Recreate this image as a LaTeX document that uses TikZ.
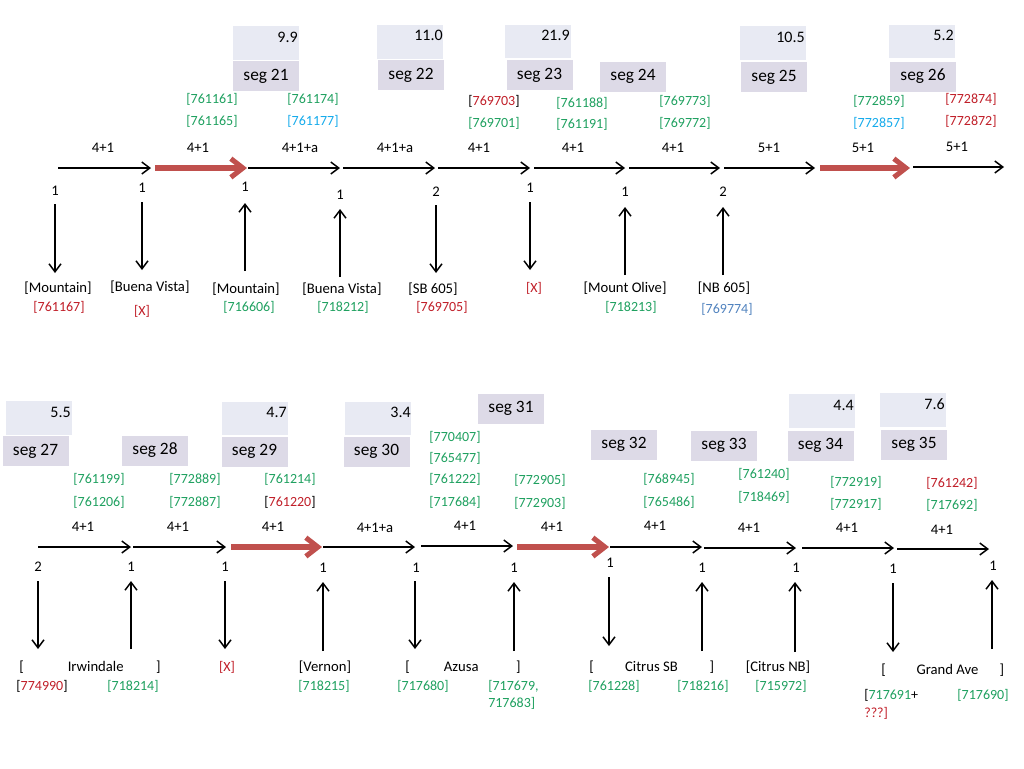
\documentclass[tikz,border=0pt]{standalone}
\usepackage{fontspec}
\setmainfont{Carlito}
\usetikzlibrary{arrows.meta}
\definecolor{cgreen}{RGB}{30,160,95}
\definecolor{cred}{RGB}{192,30,40}
\definecolor{cblue}{RGB}{20,170,235}
\definecolor{cbluetwo}{RGB}{80,130,190}
\definecolor{valfill}{RGB}{232,234,243}
\definecolor{segfill}{RGB}{221,218,231}
\definecolor{redarrow}{RGB}{192,80,77}
\begin{document}
\begin{tikzpicture}[x=0.75pt,y=-0.75pt,
  lbl/.style={font=\fontsize{10.5}{12}\selectfont, inner sep=0pt},
  idg/.style={lbl, text=cgreen},
  idr/.style={lbl, text=cred},
  idb/.style={lbl, text=cblue},
  num/.style={font=\fontsize{11}{13}\selectfont, inner sep=0pt},
  valtxt/.style={font=\fontsize{12}{14}\selectfont, inner sep=0pt, anchor=east},
  stn/.style={font=\fontsize{11}{13}\selectfont, inner sep=0pt},
  valbox/.style={fill=valfill, minimum width=49.5pt, minimum height=25pt, inner sep=0pt},
  segbox/.style={fill=segfill, minimum width=49.5pt, minimum height=22.5pt, inner sep=0pt, font=\fontsize{13}{15}\selectfont},
  flow/.style={line width=1.1pt, -{Straight Barb[length=6pt,width=9pt]}},
  hot/.style={draw=redarrow, line width=3.8pt, -{Straight Barb[length=9pt,width=14pt]}},
]
\useasboundingbox (0,0) rectangle (1024,768);

% ---------------- top row boxes ----------------
\node[valbox] (v21) at (266,43) {};
\node[segbox] (s21) at (266,76) {seg 21};
\node[valbox] (v22) at (409.5,42) {};
\node[segbox] (s22) at (411,75) {seg 22};
\node[valbox] (v23) at (538,41.5) {};
\node[segbox] (s23) at (539.5,75) {seg 23};
\node[segbox] (s24) at (633,76.5) {seg 24};
\node[valbox] (v25) at (772.5,43) {};
\node[segbox] (s25) at (774,77) {seg 25};
\node[valbox] (v26) at (921.5,41.5) {};
\node[segbox] (s26) at (923,76.5) {seg 26};

\node[valtxt] (t21) at (298,37) {9.9};
\node[valtxt] (t22) at (443,35) {11.0};
\node[valtxt] (t23) at (570,35) {21.9};
\node[valtxt] (t25) at (805,37) {10.5};
\node[valtxt] (t26) at (954,35) {5.2};

% ---------------- top row ids ----------------
\node[idg] (a1) at (212,99) {[761161]};
\node[idg] (a2) at (212,121) {[761165]};
\node[idg] (a3) at (313,99) {[761174]};
\node[idb] (a4) at (313,121) {[761177]};
\node[lbl] (a5) at (494,101) {[\textcolor{cred}{769703}]};
\node[idg] (a6) at (494,123) {[769701]};
\node[idg] (a7) at (582,103) {[761188]};
\node[idg] (a8) at (582,124) {[761191]};
\node[idg] (a9) at (685,101) {[769773]};
\node[idg] (a10) at (685,123) {[769772]};
\node[idg] (a11) at (879,101) {[772859]};
\node[idb] (a12) at (879,123) {[772857]};
\node[idr] (a13) at (971,99) {[772874]};
\node[idr] (a14) at (971,121) {[772872]};

% ---------------- top row edge labels ----------------
\node[num] (e1) at (103,148) {4+1};
\node[num] (e2) at (198,148) {4+1};
\node[num] (e3) at (300,148) {4+1+a};
\node[num] (e4) at (395,148) {4+1+a};
\node[num] (e5) at (479,148) {4+1};
\node[num] (e6) at (573,148) {4+1};
\node[num] (e7) at (673,148) {4+1};
\node[num] (e8) at (769,148) {5+1};
\node[num] (e9) at (863,148) {5+1};
\node[num] (e10) at (957,147) {5+1};

% ---------------- top row horizontal arrows ----------------
\draw[flow] (58,168) -- (151,168);
\draw[hot] (155,168) -- (247,168);
\draw[flow] (248,168) -- (340,168);
\draw[flow] (343,168) -- (435,168);
\draw[flow] (438,168) -- (530,168);
\draw[flow] (534,168) -- (625,168);
\draw[flow] (629,168) -- (720,168);
\draw[flow] (724,168) -- (815,168);
\draw[hot] (820,168) -- (910,168);
\draw[flow] (913,167) -- (1004,167);

% ---------------- top row counts ----------------
\node[num] (c1) at (55,191) {1};
\node[num] (c2) at (142,188) {1};
\node[num] (c3) at (245,187) {1};
\node[num] (c4) at (340,195) {1};
\node[num] (c5) at (436,192) {2};
\node[num] (c6) at (530,188) {1};
\node[num] (c7) at (625,192) {1};
\node[num] (c8) at (723,192) {2};

% ---------------- top row vertical arrows ----------------
\draw[flow] (55,204) -- (55,273);
\draw[flow] (142,202) -- (142,270);
\draw[flow] (245,271) -- (245,203);
\draw[flow] (340,277) -- (340,209);
\draw[flow] (436,205) -- (436,273);
\draw[flow] (530,202) -- (530,270);
\draw[flow] (625,275) -- (625,207);
\draw[flow] (723,275) -- (723,207);

% ---------------- top row stations ----------------
\node[stn] (m1) at (58,288) {[Mountain]};
\node[idr] (m1i) at (59,307) {[761167]};
\node[stn] (b1) at (150,287) {[Buena Vista]};
\node[idr] (b1i) at (142,311) {[X]};
\node[stn] (m2) at (246,289) {[Mountain]};
\node[idg] (m2i) at (249,307) {[716606]};
\node[stn] (b2) at (342,289) {[Buena Vista]};
\node[idg] (b2i) at (343,307) {[718212]};
\node[stn] (sb) at (433,289) {[SB 605]};
\node[idr] (sbi) at (442,307) {[769705]};
\node[idr] (x1) at (534,288) {[X]};
\node[stn] (mo) at (625,288) {[Mount Olive]};
\node[idg] (moi) at (631,307) {[718213]};
\node[stn] (nb) at (724,288) {[NB 605]};
\node[lbl, text=cbluetwo] (nbi) at (727,309) {[769774]};

% ================= bottom row =================
\node[valbox] (v27) at (38.5,418) {};
\node[segbox] (s27) at (35.5,451) {seg 27};
\node[segbox] (s28) at (155,450.5) {seg 28};
\node[valbox] (v29) at (255,418.5) {};
\node[segbox] (s29) at (254.5,451.5) {seg 29};
\node[valbox] (v30) at (378,418.5) {};
\node[segbox] (s30) at (376.5,451.5) {seg 30};
\node[segbox] (s31) at (511,408.5) {seg 31};
\node[segbox] (s32) at (624,444.5) {seg 32};
\node[segbox] (s33) at (724,445.5) {seg 33};
\node[valbox] (v34) at (821.5,411) {};
\node[segbox] (s34) at (820.5,445.5) {seg 34};
\node[valbox] (v35) at (912.5,410) {};
\node[segbox] (s35) at (914,444.5) {seg 35};

\node[valtxt] (t27) at (71,412) {5.5};
\node[valtxt] (t29) at (287,412) {4.7};
\node[valtxt] (t30) at (411,412) {3.4};
\node[valtxt] (t34) at (854,405) {4.4};
\node[valtxt] (t35) at (945,404) {7.6};

% ---------------- bottom ids ----------------
\node[idg] (d1) at (99,479) {[761199]};
\node[idg] (d2) at (99,502) {[761206]};
\node[idg] (d3) at (195,479) {[772889]};
\node[idg] (d4) at (195,502) {[772887]};
\node[idg] (d5) at (290,479) {[761214]};
\node[lbl] (d6) at (290,502) {[\textcolor{cred}{761220}]};
\node[idg] (d7) at (455,437) {[770407]};
\node[idg] (d8) at (455,458) {[765477]};
\node[idg] (d9) at (455,479) {[761222]};
\node[idg] (d10) at (455,502) {[717684]};
\node[idg] (d11) at (540,480) {[772905]};
\node[idg] (d12) at (540,503) {[772903]};
\node[idg] (d13) at (669,479) {[768945]};
\node[idg] (d14) at (669,502) {[765486]};
\node[idg] (d15) at (764,474) {[761240]};
\node[idg] (d16) at (764,497) {[718469]};
\node[idg] (d17) at (856,482) {[772919]};
\node[idg] (d18) at (856,504) {[772917]};
\node[idr] (d19) at (952,483) {[761242]};
\node[idg] (d20) at (952,505) {[717692]};

% ---------------- bottom edge labels ----------------
\node[num] (f1) at (83,527) {4+1};
\node[num] (f2) at (178,527) {4+1};
\node[num] (f3) at (273,527) {4+1};
\node[num] (f4) at (375,528) {4+1+a};
\node[num] (f5) at (465,526) {4+1};
\node[num] (f6) at (552,527) {4+1};
\node[num] (f7) at (655,526) {4+1};
\node[num] (f8) at (749,528) {4+1};
\node[num] (f9) at (847,528) {4+1};
\node[num] (f10) at (942,530) {4+1};

% ---------------- bottom horizontal arrows ----------------
\draw[flow] (38,547) -- (131,547);
\draw[flow] (133,547) -- (226,547);
\draw[hot] (231,547) -- (322,547);
\draw[flow] (323,547) -- (415,547);
\draw[flow] (421,546) -- (513,546);
\draw[hot] (517,547) -- (609,547);
\draw[flow] (610,547) -- (702,547);
\draw[flow] (704,548) -- (796,548);
\draw[flow] (802,548) -- (894,548);
\draw[flow] (897,549) -- (989,549);

% ---------------- bottom counts ----------------
\node[num] (g1) at (38,567) {2};
\node[num] (g2) at (131,567) {1};
\node[num] (g3) at (225,567) {1};
\node[num] (g4) at (323,568) {1};
\node[num] (g5) at (416,568) {1};
\node[num] (g6) at (514,568) {1};
\node[num] (g7) at (610,563) {1};
\node[num] (g8) at (702,568) {1};
\node[num] (g9) at (796,568) {1};
\node[num] (g10) at (893,569) {1};
\node[num] (g11) at (993,566) {1};

% ---------------- bottom vertical arrows ----------------
\draw[flow] (38,581) -- (38,649);
\draw[flow] (131,649) -- (131,581);
\draw[flow] (225,581) -- (225,649);
\draw[flow] (323,651) -- (323,582);
\draw[flow] (415,581) -- (415,649);
\draw[flow] (514,651) -- (514,582);
\draw[flow] (609,577) -- (609,646);
\draw[flow] (702,651) -- (702,582);
\draw[flow] (795,652) -- (795,582);
\draw[flow] (893,583) -- (893,652);
\draw[flow] (992,649) -- (992,580);

% ---------------- bottom stations ----------------
\node[stn, anchor=west] (irw) at (19,667) {[\hspace*{33pt}Irwindale\hspace*{24.4pt}]};
\node[lbl] (irwa) at (42,686) {[\textcolor{cred}{774990}]};
\node[idg] (irwb) at (133,686) {[718214]};
\node[idr] (x2) at (227,667) {[X]};
\node[stn] (ver) at (325,667) {[Vernon]};
\node[idg] (veri) at (324,686) {[718215]};
\node[stn, anchor=west] (azu) at (405,667) {[\hspace*{25.6pt}Azusa\hspace*{28.2pt}]};
\node[idg] (azua) at (423,686) {[717680]};
\node[idg, anchor=west] (azub) at (488,686) {[717679,};
\node[idg, anchor=west] (azuc) at (488,703) {717683]};
\node[stn, anchor=west] (csb) at (589,667) {[\hspace*{23.5pt}Citrus SB\hspace*{23.8pt}]};
\node[idg] (csba) at (614,686) {[761228]};
\node[idg] (csbb) at (703,686) {[718216]};
\node[stn] (cnb) at (778,667) {[Citrus NB]};
\node[idg] (cnbi) at (781,686) {[715972]};
\node[stn, anchor=west] (gra) at (881,670) {[\hspace*{23.1pt}Grand Ave\hspace*{15.9pt}]};
\node[lbl, anchor=west] (graa) at (864,695) {[\textcolor{cgreen}{717691}+};
\node[idr, anchor=west] (grab) at (864,713) {???]};
\node[idg] (grac) at (983,695) {[717690]};
\end{tikzpicture}
\end{document}
